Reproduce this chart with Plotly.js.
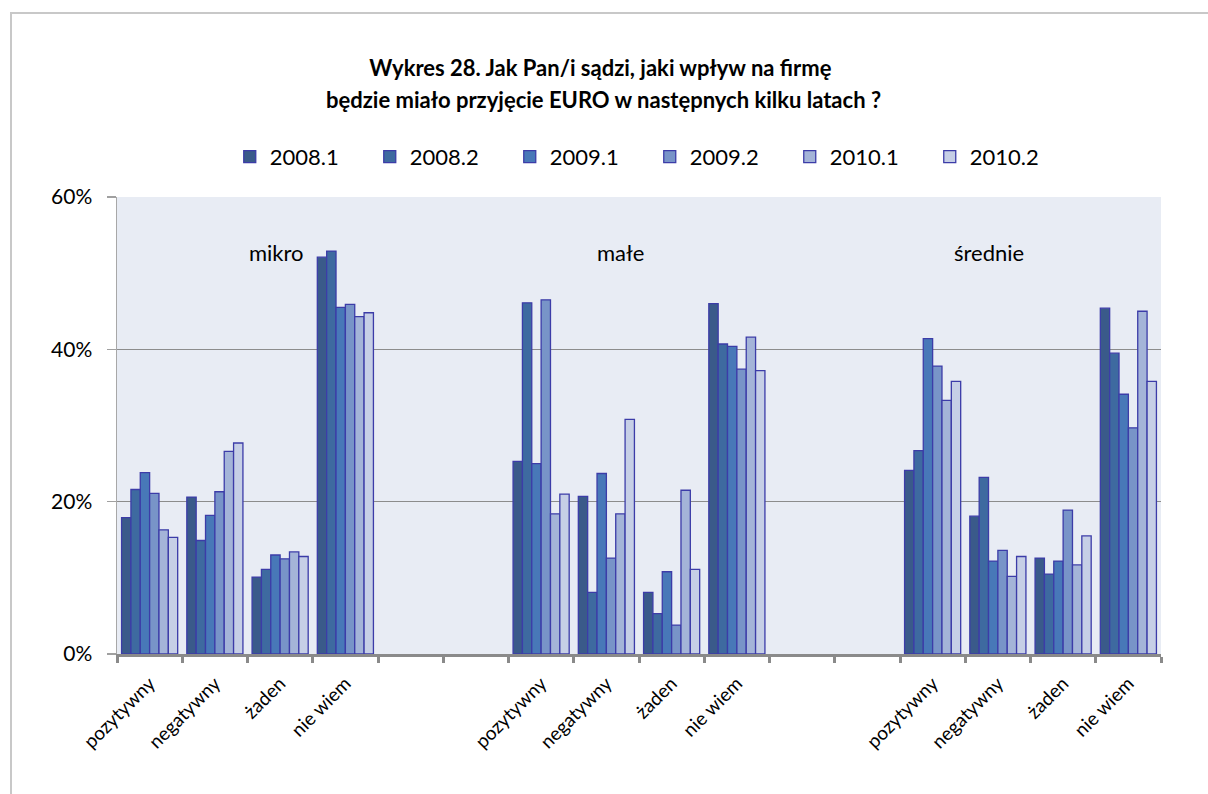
<!DOCTYPE html>
<html>
<head>
<meta charset="utf-8">
<script src="https://cdn.plot.ly/plotly-3.0.1.min.js"></script>
<style>
  html, body { margin: 0; padding: 0; background: #fff; }
  #wrap { position: relative; width: 1208px; height: 794px; overflow: hidden; }
  #chart { position: absolute; left: 0; top: 0; width: 1208px; height: 794px; }
  #frame { position: absolute; left: 10px; top: 12px; width: 1210px; height: 800px;
           border-left: 2px solid #c8c8c8; border-top: 2px solid #c8c8c8; pointer-events: none; }
</style>
</head>
<body>
<div id="wrap">
  <div id="chart"></div>
  <div id="frame"></div>
</div>
<script>
// ---- data ----
const titleLines = ['Wykres 28. Jak Pan/i sądzi, jaki wpływ na firmę',
                    'będzie miało przyjęcie EURO w następnych kilku latach ?'];
const groups = ['mikro', 'małe', 'średnie'];
const answers = ['pozytywny', 'negatywny', 'żaden', 'nie wiem'];
const seriesNames = ['2008.1', '2008.2', '2009.1', '2009.2', '2010.1', '2010.2'];

// values (%) per series, order: mikro[4 answers], małe[4], średnie[4]
const s2008_1 = [17.9, 20.6, 10.1, 52.1,   25.3, 20.7,  8.1, 46.0,   24.1, 18.1, 12.6, 45.4];
const s2008_2 = [21.6, 14.9, 11.1, 52.9,   46.1,  8.1,  5.3, 40.7,   26.7, 23.2, 10.5, 39.5];
const s2009_1 = [23.8, 18.2, 13.0, 45.5,   25.0, 23.7, 10.8, 40.4,   41.4, 12.2, 12.2, 34.1];
const s2009_2 = [21.1, 21.3, 12.5, 45.9,   46.5, 12.6,  3.8, 37.4,   37.8, 13.6, 18.9, 29.7];
const s2010_1 = [16.3, 26.6, 13.4, 44.3,   18.4, 18.4, 21.5, 41.6,   33.3, 10.2, 11.7, 45.0];
const s2010_2 = [15.3, 27.7, 12.8, 44.8,   21.0, 30.8, 11.1, 37.2,   35.8, 12.8, 15.5, 35.8];
const allSeries = [s2008_1, s2008_2, s2009_1, s2009_2, s2010_1, s2010_2];

const colors = ['#3A5A8A', '#3E6AA0', '#4878B8', '#7894C8', '#A4B4D8', '#C6CFE6'];

// positions: each group has 4 answer slots + 2 empty slots
const slotsPerGroup = 6;
const xs = [];
const tickvals = [], ticktext = [];
groups.forEach((g, gi) => {
  answers.forEach((a, ai) => {
    xs.push(gi * slotsPerGroup + ai);
    tickvals.push(gi * slotsPerGroup + ai);
    ticktext.push(a);
  });
});
const nSlots = groups.length * slotsPerGroup - 2; // 16
const boundaries = [];
for (let i = 0; i <= nSlots; i++) boundaries.push(i - 0.5);

const traces = allSeries.map((vals, i) => ({
  type: 'bar',
  name: seriesNames[i],
  x: xs,
  y: vals.map(v => v / 100),
  marker: { color: colors[i], line: { color: '#3c3ca8', width: 1.3 } },
  hoverinfo: 'skip'
}));

const FONT = 'Lato, "Open Sans", sans-serif';
const groupLabelX = [1.95, 7.22, 12.86];
const annotations = groups.map((g, i) => ({
  x: groupLabelX[i], y: 0.527, xref: 'x', yref: 'y',
  text: g, showarrow: false,
  font: { family: FONT, size: 22, color: '#000' }
}));
annotations.push({
  x: 0.466, xref: 'paper', xanchor: 'center',
  y: 1.2123, yref: 'paper', yanchor: 'middle',
  text: '<b>' + titleLines[1] + '</b>', showarrow: false,
  font: { family: FONT, size: 22, color: '#000' }
});

const layout = {
  width: 1208, height: 794,
  paper_bgcolor: '#ffffff',
  plot_bgcolor: '#E8ECF4',
  margin: { l: 117, r: 47, t: 197, b: 140 },
  font: { family: FONT, color: '#000' },
  title: {
    text: '<b>' + titleLines[0] + '</b>',
    x: 0.497, xanchor: 'center', y: 1 - 68 / 794, yanchor: 'middle',
    font: { size: 22, color: '#000' }
  },
  barmode: 'group',
  bargap: 0.14,
  bargroupgap: 0,
  showlegend: true,
  legend: {
    orientation: 'h', x: 0.108, xanchor: 'left', y: 1.088, yanchor: 'middle',
    font: { size: 22 }, entrywidth: 95, entrywidthmode: 'pixels',
    itemclick: false, itemdoubleclick: false, traceorder: 'normal'
  },
  xaxis: {
    range: [-0.5, nSlots - 0.5],
    tickmode: 'array', tickvals: tickvals, ticktext: ticktext,
    tickangle: -45, ticklen: 0, tickfont: { size: 19 },
    ticklabelstandoff: 8,
    showgrid: false, zeroline: false,
    showline: true, linecolor: '#8a8a8a', linewidth: 3,
    minor: { tickmode: 'array', tickvals: boundaries, ticks: 'outside', ticklen: 6, tickwidth: 3, tickcolor: '#8a8a8a', showgrid: false },
    fixedrange: true
  },
  yaxis: {
    range: [0, 0.6],
    tickvals: [0, 0.2, 0.4, 0.6], ticktext: ['0%', '20%', '40%', '60%'],
    ticks: 'outside', ticklen: 9, tickcolor: '#a0a0a0', tickwidth: 1.5,
    tickfont: { size: 21 }, ticklabelstandoff: 10,
    showgrid: true, gridcolor: '#8c8c8c', gridwidth: 1,
    zeroline: false,
    showline: true, linecolor: '#a8a8a8', linewidth: 1.5,
    fixedrange: true
  },
  annotations: annotations
};

Plotly.newPlot('chart', traces, layout, { displayModeBar: false, staticPlot: true });
</script>
</body>
</html>
